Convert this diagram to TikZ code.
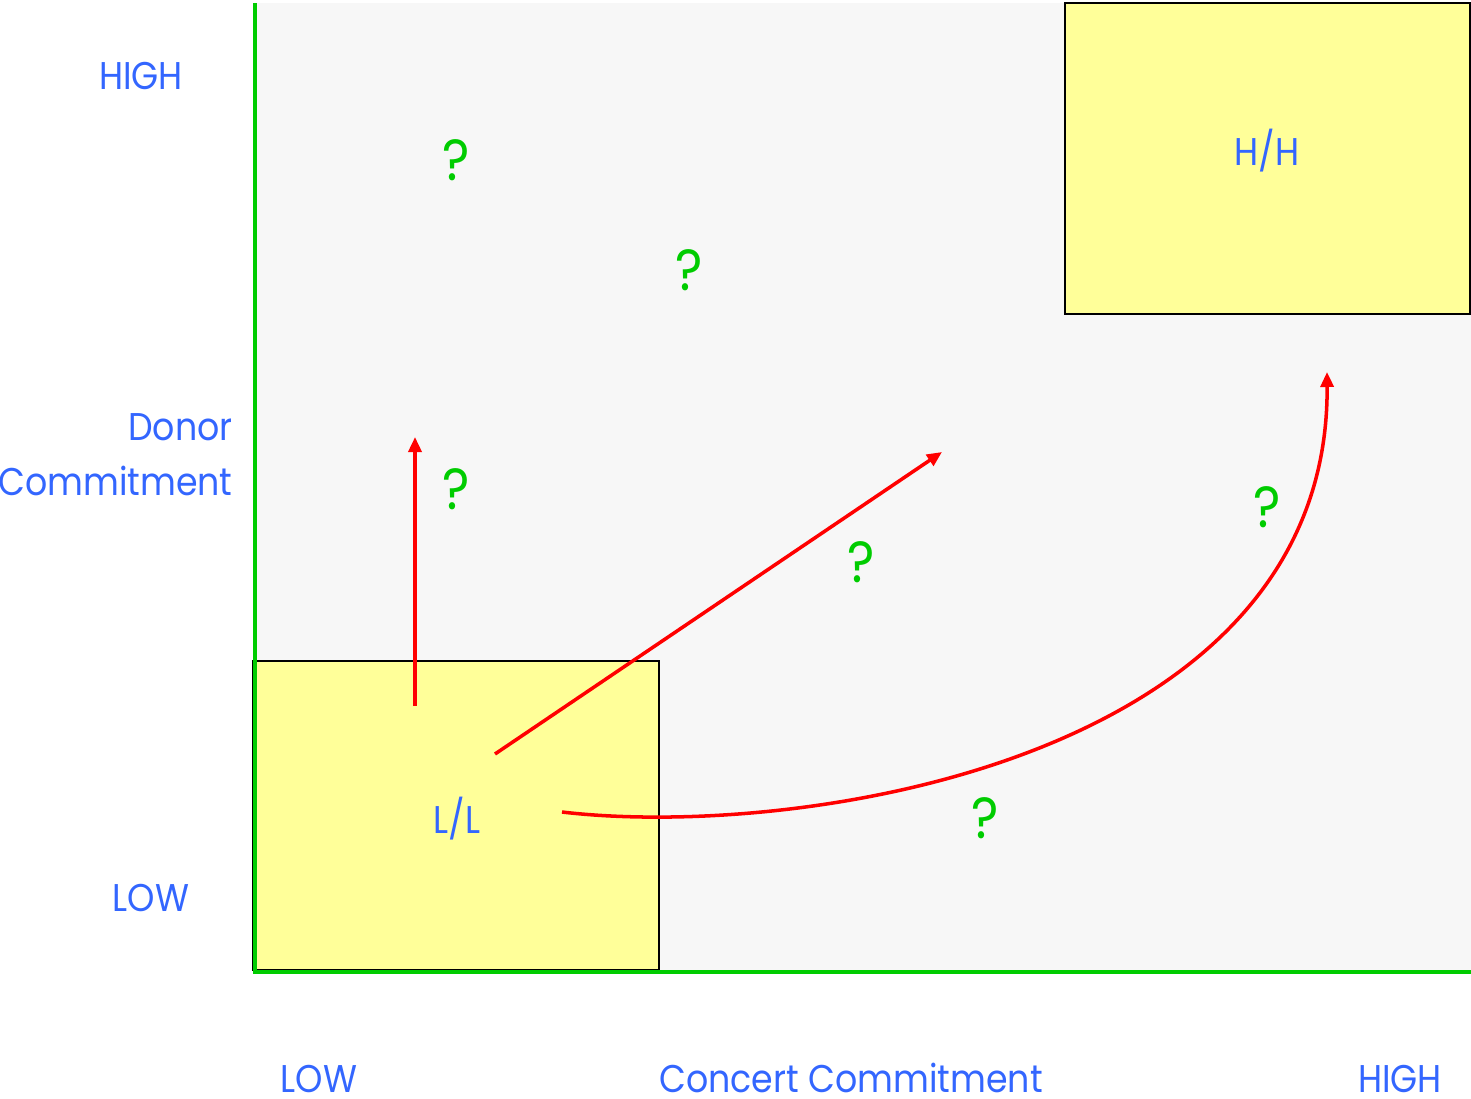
\documentclass[tikz,border=0pt]{standalone}
\usepackage{fontspec}
\setmainfont{Poppins}[FakeStretch=0.9]
\usepackage{tikz}
\usetikzlibrary{positioning,arrows.meta}

\definecolor{axisgreen}{RGB}{0,204,0}
\definecolor{labelblue}{RGB}{51,102,255}
\definecolor{boxyellow}{RGB}{255,255,153}
\definecolor{paper}{RGB}{247,247,247}

\begin{document}
\begin{tikzpicture}[
    x=0.02cm, y=-0.02cm,
    lbl/.style={text=labelblue, font=\fontsize{22}{26}\selectfont, inner sep=0pt, text depth=0pt, anchor=base},
    quest/.style={text=axisgreen, font=\fontsize{33}{36}\selectfont, inner sep=0pt, anchor=base},
    zone/.style={draw=black, line width=1.2pt, fill=boxyellow},
    axis/.style={draw=axisgreen, line width=2.8pt},
    arr/.style={-{Triangle[length=0.3cm,width=0.26cm]}, red, line width=2pt}
]
\useasboundingbox (0,0) rectangle (1471,1099);
\fill[paper] (255,3) rectangle (1471,972);

% quadrants
\draw[zone] (1065,3) rectangle (1470,314);
\draw[zone] (253,661) rectangle (659,970);
\node[lbl] (hh) at (1267,165) {H/H};
\node[lbl] (ll) at (457,833) {L/L};

% axes
\draw[axis] (255,3) -- (255,972) -- (1471,972);

% y axis labels
\node[lbl] (yhigh) at (141,89) {HIGH};
\node[lbl, anchor=base east] (donor) at (233,440) {Donor};
\node[lbl, anchor=base east] (dcommit) at (233,495) {Commitment};
\node[lbl] (ylow) at (151,911) {LOW};

% x axis labels
\node[lbl] (xlow) at (319,1092) {LOW};
\node[lbl] (concert) at (851,1092) {Concert Commitment};
\node[lbl] (xhigh) at (1400,1092) {HIGH};

% open questions
\node[quest] (q1) at (456,180) {?};
\node[quest] (q2) at (689,290) {?};
\node[quest] (q3) at (456,509) {?};
\node[quest] (q4) at (861,582) {?};
\node[quest] (q5) at (1267,527) {?};
\node[quest] (q6) at (985,838) {?};

% paths out of L/L
\coordinate (upstart) at (415,706);
\coordinate (upend) at (415,437);
\coordinate (diagstart) at (495,754);
\coordinate (diagend) at (942,452);
\coordinate (curvestart) at (562,812);
\coordinate (curveend) at (1327,372);

\draw[arr] (upstart) -- (upend);
\draw[arr] (diagstart) -- (diagend);
\draw[arr] (curvestart) .. controls (800,840) and (1330,760) .. (curveend);
\end{tikzpicture}
\end{document}
